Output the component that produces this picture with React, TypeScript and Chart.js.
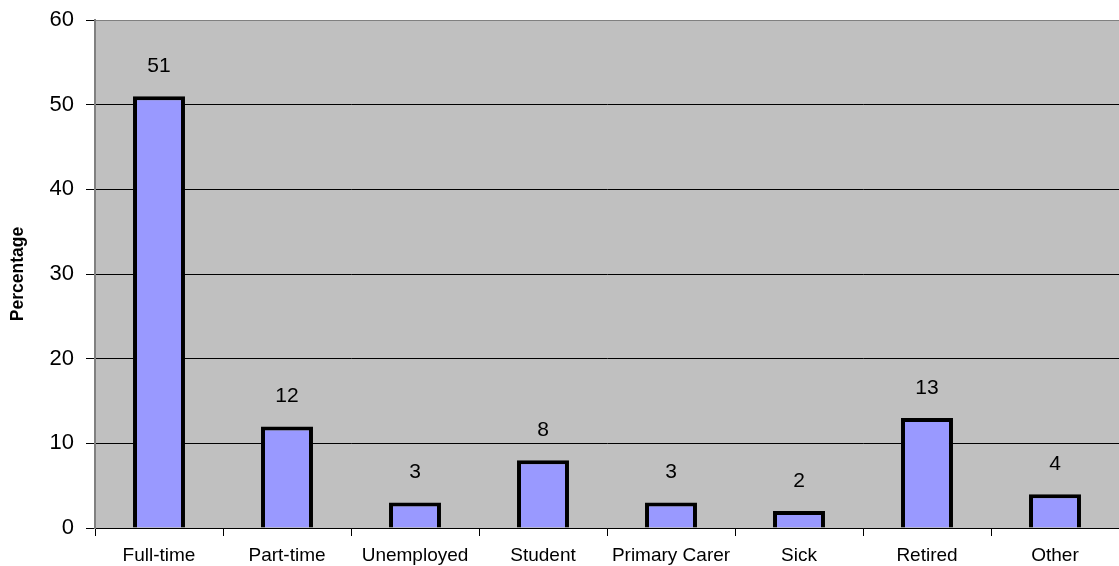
import React, { useEffect, useRef } from "react";
import { Chart, registerables } from "chart.js";

Chart.register(...registerables);

const categories = ["Full-time", "Part-time", "Unemployed", "Student", "Primary Carer", "Sick", "Retired", "Other"];
const values = [51, 12, 3, 8, 3, 2, 13, 4];
const yTitle = "Percentage";

const FONT = "Arial, 'Liberation Sans', sans-serif";

const bgPlugin = {
  id: "bgPlugin",
  beforeDraw(chart: any) {
    const { ctx, chartArea } = chart;
    ctx.save();
    ctx.fillStyle = "#C0C0C0";
    ctx.fillRect(chartArea.left, chartArea.top, chartArea.right - chartArea.left, chartArea.bottom - chartArea.top);
    ctx.restore();
  },
  afterDraw(chart: any) {
    const { ctx, chartArea } = chart;
    ctx.save();
    ctx.strokeStyle = "#808080";
    ctx.lineWidth = 1;
    ctx.beginPath();
    ctx.moveTo(chartArea.left, chartArea.top + 0.5);
    ctx.lineTo(chartArea.right, chartArea.top + 0.5);
    ctx.stroke();
    ctx.lineWidth = 2;
    ctx.beginPath();
    ctx.moveTo(chartArea.left, chartArea.top);
    ctx.lineTo(chartArea.left, chartArea.bottom);
    ctx.stroke();
    const meta = chart.getDatasetMeta(0);
    ctx.fillStyle = "#000";
    ctx.font = "21px " + FONT;
    ctx.textAlign = "center";
    ctx.textBaseline = "middle";
    meta.data.forEach((bar: any, i: number) => {
      ctx.fillText(String(values[i]), bar.x, bar.y - 30);
    });
    ctx.font = "bold 17.5px " + FONT;
    ctx.translate(18, (chartArea.top + chartArea.bottom) / 2);
    ctx.rotate(-Math.PI / 2);
    ctx.fillText(yTitle, 0, 0);
    ctx.restore();
  },
};

export default function App() {
  const ref = useRef<HTMLCanvasElement>(null);
  useEffect(() => {
    document.body.style.margin = "0";
    const chart = new Chart(ref.current!, {
      type: "bar",
      data: {
        labels: categories,
        datasets: [
          {
            data: values,
            backgroundColor: "#9999FF",
            borderColor: "#000000",
            borderWidth: 4,
            barPercentage: 0.406,
            categoryPercentage: 1,
          },
        ],
      },
      options: {
        animation: false,
        responsive: false,
        maintainAspectRatio: false,
        layout: { padding: { top: 20, right: 0, left: 0, bottom: 0 } },
        plugins: { legend: { display: false }, tooltip: { enabled: false } },
        scales: {
          x: {
            offset: true,
            grid: { display: true, drawOnChartArea: false, drawTicks: true, tickLength: 8, color: "#000", offset: true },
            border: { display: true, color: "#000", width: 1 },
            ticks: { color: "#000", font: { family: FONT, size: 19 }, padding: 8, maxRotation: 0, autoSkip: false },
            afterFit: (s: any) => { s.height = 38; s.paddingLeft = 0; s.paddingRight = 0; },
          },
          y: {
            min: 0,
            max: 60,
            ticks: { stepSize: 10, color: "#000", font: { family: FONT, size: 22 }, padding: 12 },
            grid: { color: "#000", lineWidth: 1, drawTicks: true, tickLength: 9, tickColor: "#000" },
            border: { display: true, color: "#808080", width: 2 },
            afterFit: (s: any) => { s.width = 95; s.paddingTop = 0; s.paddingBottom = 0; },
          },
        },
      },
      plugins: [bgPlugin],
    });
    return () => chart.destroy();
  }, []);
  return (
    <div style={{ width: 1119, height: 566 }}>
      <canvas ref={ref} width={1119} height={566} style={{ display: "block" }} />
    </div>
  );
}
